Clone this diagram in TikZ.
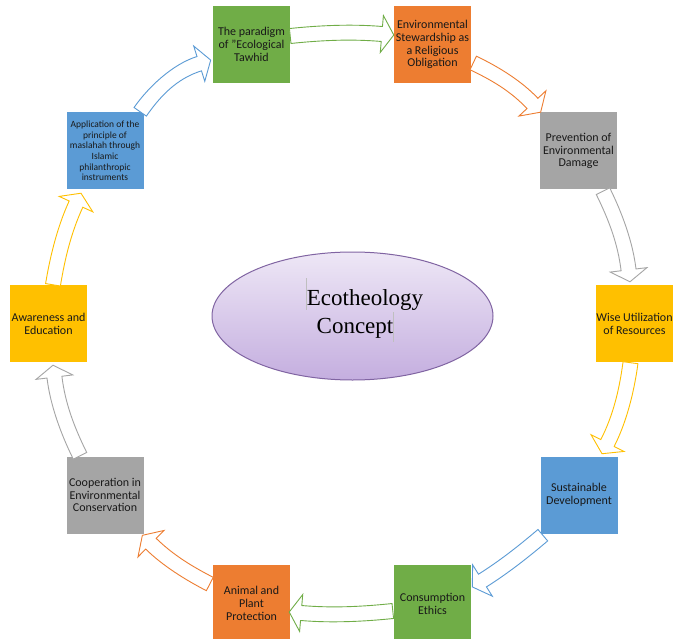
\documentclass[tikz,border=0pt]{standalone}
\usepackage{fontspec}
\setmainfont{Carlito}
\newfontfamily\ellipsefont{Liberation Serif}
\usetikzlibrary{calc,shapes.geometric}

\definecolor{cgreen}{HTML}{70AD47}
\definecolor{corange}{HTML}{ED7D31}
\definecolor{cgray}{HTML}{A5A5A5}
\definecolor{cyellow}{HTML}{FFC000}
\definecolor{cblue}{HTML}{5B9BD5}
\definecolor{cpurple}{HTML}{8064A2}
\definecolor{elltop}{HTML}{EEE7F6}
\definecolor{ellmid}{HTML}{DCCEEC}
\definecolor{ellbot}{HTML}{C4AEDF}

\def\arrW{7.5}
\def\arrHW{18.5}
\def\arrHL{12}

\tikzset{
  cbox/.style={minimum width=77pt, minimum height=77pt, inner sep=0pt, align=center,
    font=\fontsize{12}{12.8}\selectfont, text=black!90},
  smallbox/.style={cbox, font=\fontsize{9.5}{10.6}\selectfont},
  blockarrow/.style={draw=#1, fill=white, line width=0.9pt, line join=miter},
  etext/.style={font=\ellipsefont\fontsize{23}{28}\selectfont, inner sep=0pt, anchor=base},
  cursorline/.style={draw=black!25, line width=0.5pt}
}

% curved block arrow: colour, tail point, tip point, outward bulge
\newcommand{\blockarrow}[4]{%
  \path (#2) coordinate (tmpA) (#3) coordinate (tmpB);%
  \pgfpointdiff{\pgfpointanchor{tmpA}{center}}{\pgfpointanchor{tmpB}{center}}%
  \pgfgetlastxy{\baDX}{\baDY}%
  \pgfmathsetmacro\baL{veclen(\baDX,\baDY)}%
  \pgfmathsetmacro\baAng{atan2(\baDY,\baDX)}%
  \pgfmathsetmacro\baPhi{asin(#4/(\baL/4+\arrHL/2))}%
  \pgfmathsetmacro\baC{cos(\baPhi)}%
  \pgfmathsetmacro\baS{sin(\baPhi)}%
  \pgfmathsetmacro\baHx{\baL-\arrHL*\baC}%
  \pgfmathsetmacro\baHy{-\arrHL*\baS}%
  \pgfmathsetmacro\baK{\baHx/3}%
  \begin{scope}[shift={(tmpA)},rotate=\baAng]
    \draw[blockarrow=#1]
      ({\arrW*\baS},{\arrW*\baC})
      .. controls ({\baK*\baC+\arrW*\baS},{-\baK*\baS+\arrW*\baC}) and ({\baHx-\baK*\baC-\arrW*\baS},{\baHy-\baK*\baS+\arrW*\baC}) ..
      ({\baHx-\arrW*\baS},{\baHy+\arrW*\baC})
      -- ({\baHx-\arrHW*\baS},{\baHy+\arrHW*\baC})
      -- (\baL,0)
      -- ({\baHx+\arrHW*\baS},{\baHy-\arrHW*\baC})
      -- ({\baHx+\arrW*\baS},{\baHy-\arrW*\baC})
      .. controls ({\baHx-\baK*\baC+\arrW*\baS},{\baHy-\baK*\baS-\arrW*\baC}) and ({\baK*\baC-\arrW*\baS},{-\baK*\baS-\arrW*\baC}) ..
      ({-\arrW*\baS},{-\arrW*\baC}) -- cycle;
  \end{scope}
}

\begin{document}
\begin{tikzpicture}[x=1pt, y=-1pt]
\useasboundingbox (0,0) rectangle (674,639);
\fill[white] (0,0) rectangle (674,639);
\clip (0,0) rectangle (674,639);

% central ellipse
\node[ellipse, minimum width=281pt, minimum height=128pt, inner sep=0pt,
      draw=cpurple, line width=1pt, top color=elltop, middle color=ellmid, bottom color=ellbot] (e) at (352.5,316) {};
\node[etext] (t1) at (365,305) {Ecotheology};
\node[etext] (t2) at (355,333) {Concept};
\draw[cursorline] (306,278) -- (306,310);
\draw[cursorline] (393,312) -- (393,342);

% boxes
\node[cbox, fill=cgreen]  (b1)  at (251.5,44.5) {The paradigm\\of "Ecological\\Tawhid};
\node[cbox, fill=corange] (b2)  at (432.5,44.5) {Environmental\\Stewardship as\\a Religious\\Obligation};
\node[cbox, fill=cgray]   (b3)  at (578.5,151)  {Prevention of\\Environmental\\Damage};
\node[cbox, fill=cyellow] (b4)  at (634.5,323.5) {Wise Utilization\\of Resources};
\node[cbox, fill=cblue]   (b5)  at (579,495)    {Sustainable\\Development};
\node[cbox, fill=cgreen]  (b6)  at (432.5,603.5) {Consumption\\Ethics};
\node[cbox, fill=corange] (b7)  at (251.5,603.5) {Animal and\\Plant\\Protection};
\node[cbox, fill=cgray]   (b8)  at (105,495)    {Cooperation in\\Environmental\\Conservation};
\node[cbox, fill=cyellow] (b9)  at (48.5,323.5) {Awareness and\\Education};
\node[smallbox, fill=cblue] (b10) at (105,151)  {Application of the\\principle of\\maslahah through\\Islamic\\philanthropic\\instruments};

% curved block arrows
\blockarrow{cgreen}{$(b1.east)+(0,-8.5)$}{$(b2.west)+(0,-9.5)$}{3}
\blockarrow{corange}{$(b2.east)+(2,18.5)$}{$(b3.north west)+(1,0)$}{5}
\blockarrow{cgray}{$(b3.south)+(24.5,1.5)$}{$(b4.north)+(-4.5,-3)$}{5}
\blockarrow{cyellow}{$(b4.south)+(-4,0.5)$}{$(b5.north)+(23,-2.5)$}{5}
\blockarrow{cblue}{$(b5.south west)+(2.5,1.5)$}{$(b6.east)+(1,-16.5)$}{2}
\blockarrow{cgreen}{$(b6.west)+(-1,7.5)$}{$(b7.east)+(-1,8.5)$}{3}
\blockarrow{corange}{$(b7.west)+(-3,-19.5)$}{$(b8.south east)+(-1.5,1.5)$}{4}
\blockarrow{cgray}{$(b8.north)+(-25,-0.5)$}{$(b9.south)+(4.5,3)$}{5}
\blockarrow{cyellow}{$(b9.north)+(4.5,0)$}{$(b10.south)+(-24,3.5)$}{4}
\blockarrow{cblue}{$(b10.north east)+(-3.5,-0.5)$}{$(b1.west)+(-2,15.5)$}{9}
\end{tikzpicture}
\end{document}
